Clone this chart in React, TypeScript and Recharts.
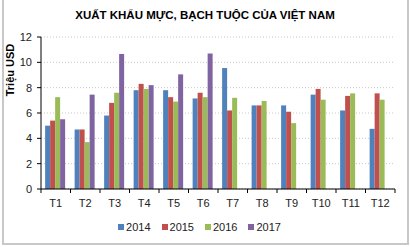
import { BarChart, Bar, XAxis, YAxis, CartesianGrid } from 'recharts'

const months = ['T1', 'T2', 'T3', 'T4', 'T5', 'T6', 'T7', 'T8', 'T9', 'T10', 'T11', 'T12']
const y2014 = [5.0, 4.7, 5.8, 7.8, 7.8, 7.15, 9.55, 6.6, 6.6, 7.45, 6.2, 4.75]
const y2015 = [5.4, 4.7, 6.8, 8.3, 7.25, 7.6, 6.2, 6.6, 6.1, 7.9, 7.35, 7.55]
const y2016 = [7.25, 3.7, 7.6, 7.9, 6.9, 7.25, 7.2, 6.95, 5.2, 7.05, 7.55, 7.05]
const y2017 = [5.5, 7.45, 10.65, 8.2, 9.05, 10.7, null, null, null, null, null, null]
const yTicks = [0, 2, 4, 6, 8, 10, 12]

const SERIES = [
  { key: 'y2014', name: '2014', color: '#4F81BD' },
  { key: 'y2015', name: '2015', color: '#C0504D' },
  { key: 'y2016', name: '2016', color: '#9BBB59' },
  { key: 'y2017', name: '2017', color: '#8064A2' },
]

const data = months.map((m, i) => ({
  month: m,
  y2014: y2014[i],
  y2015: y2015[i],
  y2016: y2016[i],
  y2017: y2017[i],
}))

const W = 410
const H = 247
const MARGIN = { top: 37, right: 15, bottom: 36, left: 0 }
const Y_W = 41
const PLOT_W = W - MARGIN.left - MARGIN.right - Y_W
const BAND = PLOT_W / months.length
const FONT = 'Arial, "Liberation Sans", sans-serif'

// Excel puts the category tick marks between the groups, not under them
function XTick(props: any) {
  const { x, y, payload, index } = props
  const top = y - 8
  return (
    <g>
      <line x1={x - BAND / 2} x2={x - BAND / 2} y1={top} y2={top + 4} stroke="#000" />
      {index === months.length - 1 && (
        <line x1={x + BAND / 2} x2={x + BAND / 2} y1={top} y2={top + 4} stroke="#000" />
      )}
      <text x={x} y={top + 18} textAnchor="middle" fontSize={11} fill="#222" fontFamily={FONT}>
        {payload.value}
      </text>
    </g>
  )
}

function YLabel(props: any) {
  const { viewBox } = props
  const cx = viewBox.x + 10
  const cy = viewBox.y + 33
  return (
    <text
      x={cx} y={cy} transform={`rotate(-90 ${cx} ${cy})`}
      textAnchor="middle" dominantBaseline="central"
      fontSize={11} fontWeight={700} fill="#000" fontFamily={FONT}
    >
      Triệu USD
    </text>
  )
}

export default function App() {
  return (
    <div style={{ position: 'absolute', left: 0, top: 0, width: W, height: H, background: '#fff' }}>
      <div style={{
        position: 'absolute', left: 2, top: 0, width: 403, height: 243,
        borderLeft: '2px solid #c8c8c8', borderRight: '2px solid #c8c8c8', borderBottom: '2px solid #c8c8c8',
      }} />
      <div style={{
        position: 'absolute', left: 0, top: 9, width: W, textAlign: 'center',
        fontFamily: '"Liberation Sans Narrow", "Arial Narrow", Arial, sans-serif',
        fontWeight: 700, fontSize: 11.5, color: '#000',
      }}>
        XUẤT KHẨU MỰC, BẠCH TUỘC CỦA VIỆT NAM
      </div>
      <div style={{ position: 'absolute', left: 0, top: 0 }}>
        <BarChart width={W} height={H} data={data} margin={MARGIN} barGap={0} barCategoryGap="14%">
          <CartesianGrid vertical={false} stroke="#c8c8c8" strokeDasharray="1 2" />
          <XAxis
            dataKey="month" tickLine={false} axisLine={{ stroke: '#000' }}
            tick={<XTick />} interval={0} height={22}
          />
          <YAxis
            width={Y_W} domain={[0, 12]} ticks={yTicks} interval={0}
            axisLine={{ stroke: '#000' }} tickLine={{ stroke: '#000' }} tickSize={4} tickMargin={5}
            tick={{ fontSize: 11, fill: '#222', fontFamily: FONT }}
            label={<YLabel />}
          />
          {SERIES.map((s) => (
            <Bar key={s.key} dataKey={s.key} name={s.name} fill={s.color} isAnimationActive={false} />
          ))}
        </BarChart>
      </div>
      <div style={{
        position: 'absolute', left: 0, top: 221, width: W, display: 'flex', justifyContent: 'center',
        fontFamily: FONT, fontSize: 11, color: '#222',
      }}>
        {SERIES.map((s) => (
          <div key={s.key} style={{ display: 'flex', alignItems: 'center', marginRight: 11 }}>
            <div style={{ width: 6, height: 6, background: s.color, marginRight: 2 }} />
            <span>{s.name}</span>
          </div>
        ))}
      </div>
    </div>
  )
}
